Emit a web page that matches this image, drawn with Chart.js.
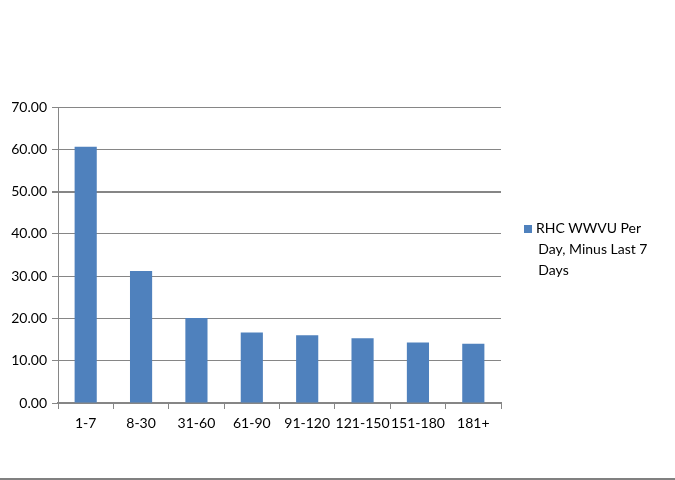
<!DOCTYPE html>
<html>
<head>
<meta charset="utf-8">
<script src="https://cdn.jsdelivr.net/npm/chart.js@4/dist/chart.umd.min.js"></script>
<style>
  html, body { margin: 0; padding: 0; background: #fff; }
  #wrap { position: relative; width: 675px; height: 480px; }
  #legend {
    position: absolute; left: 524px; top: 217px; width: 150px;
    font-family: Lato, 'Open Sans', sans-serif; font-size: 14px; line-height: 21px; color: #000;
  }
  #legend .box { display: inline-block; width: 8px; height: 8px; background: #4F81BD; margin-right: 4px; }
  #line { position: absolute; left: 0; top: 478px; width: 675px; height: 2px; background: #808080; }
</style>
</head>
<body>
<div id="wrap">
  <canvas id="chart" width="675" height="480"></canvas>
  <div id="legend"><span class="box"></span>RHC WWVU Per<br>&nbsp;&nbsp;&nbsp;&nbsp;Day, Minus Last 7<br>&nbsp;&nbsp;&nbsp;&nbsp;Days</div>
  <div id="line"></div>
</div>
<script>
const xlabels = ['1-7', '8-30', '31-60', '61-90', '91-120', '121-150', '151-180', '181+'];
const yvalues = [60.6, 31.2, 20.1, 16.7, 16.0, 15.3, 14.3, 14.0];
const seriesName = 'RHC WWVU Per Day, Minus Last 7 Days';

Chart.defaults.font.family = "Lato, 'Open Sans', sans-serif";
Chart.defaults.font.size = 14;
Chart.defaults.color = '#000';

const ctx = document.getElementById('chart').getContext('2d');
const myChart = new Chart(ctx, {
    type: 'bar',
    data: {
        labels: xlabels,
        datasets: [{
            label: seriesName,
            data: yvalues,
            backgroundColor: '#4F81BD',
            categoryPercentage: 1,
            barPercentage: 0.4
        }]
    },
    options: {
        responsive: false,
        animation: false,
        layout: { padding: { top: 107, right: 174, bottom: 37, left: 0 } },
        plugins: {
            legend: { display: false },
            tooltip: { enabled: false }
        },
        scales: {
            x: {
                grid: { drawOnChartArea: false, tickLength: 6, color: '#868686', offset: true },
                border: { color: '#868686', width: 2 },
                ticks: { padding: 6, maxRotation: 0, autoSkip: false },
                afterFit: s => { s.height = 40; }
            },
            y: {
                min: 0, max: 70,
                ticks: { stepSize: 10, padding: 5, callback: v => v.toFixed(2) },
                grid: {
                    tickLength: 6,
                    color: '#868686',
                    lineWidth: c => (c.tick && c.tick.value === 50) ? 2 : 1
                },
                border: { color: '#868686' },
                afterFit: s => { s.width = 58; }
            }
        }
    }
});
</script>
</body>
</html>
